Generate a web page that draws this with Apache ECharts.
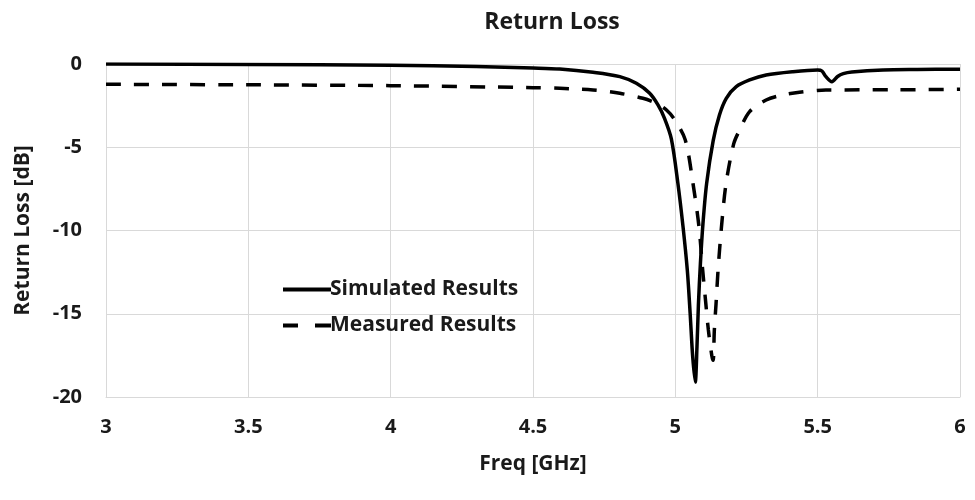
<!DOCTYPE html>
<html><head><meta charset="utf-8">
<script src="https://cdn.jsdelivr.net/npm/echarts@6/dist/echarts.min.js"></script>
<style>html,body{margin:0;padding:0;background:#fff}#c{width:975px;height:500px}</style>
</head><body><div id="c"></div>
<script>
const titleText = "Return Loss";
const xName = "Freq [GHz]";
const yName = "Return Loss [dB]";
const seriesNames = ["Simulated Results", "Measured Results"];

const simFreq = [3.0,3.5,4.0,4.3,4.5,4.594,4.711,4.805,4.863,4.91,4.939,4.962,4.986,5.009,5.027,5.042,5.052,5.061,5.07,5.076,5.081,5.088,5.097,5.11,5.133,5.155,5.179,5.214,5.261,5.319,5.413,5.5,5.515,5.529,5.55,5.57,5.59,5.62,5.73,5.85,6.0];
const simLoss = [0,-0.03,-0.08,-0.15,-0.24,-0.30,-0.50,-0.76,-1.16,-1.76,-2.46,-3.26,-4.5,-7.17,-9.77,-12.37,-14.97,-17.58,-19.1,-17.0,-14.5,-12.0,-9.6,-7.17,-4.6,-3.06,-2.06,-1.36,-0.96,-0.66,-0.46,-0.36,-0.42,-0.76,-1.06,-0.75,-0.58,-0.48,-0.36,-0.33,-0.31];

const measFreq = [3.0,3.5,4.0,4.5,4.594,4.711,4.805,4.886,4.933,4.968,4.998,5.035,5.062,5.083,5.096,5.107,5.116,5.128,5.133,5.137,5.143,5.15,5.162,5.178,5.205,5.226,5.261,5.319,5.366,5.436,5.529,5.786,6.0];
const measLoss = [-1.22,-1.25,-1.3,-1.42,-1.46,-1.56,-1.76,-2.06,-2.36,-2.75,-3.35,-4.56,-7.17,-9.77,-12.37,-14.37,-15.97,-17.5,-17.8,-16.0,-14.4,-12.4,-9.8,-7.2,-4.8,-3.96,-2.86,-2.16,-1.9,-1.7,-1.56,-1.55,-1.52];

const xTicks = {min:3, max:6, interval:0.5};
const yTicks = {min:-20, max:0, interval:5};

const zip = (a,b) => a.map((v,i)=>[v,b[i]]);
const FONT = "Open Sans";
const TXT = '#1a1a1a';
const chart = echarts.init(document.getElementById('c'), null, {renderer:'canvas'});
chart.setOption({
  animation:false,
  backgroundColor:'#fff',
  title:{text:titleText,left:547,top:6,textAlign:'center',textStyle:{fontFamily:FONT,fontWeight:'bold',fontSize:23,color:TXT}},
  grid:{left:106,right:15,top:64,bottom:103},
  legend:{orient:'vertical',left:278,top:274,itemWidth:48,itemHeight:4,itemGap:15,
    textStyle:{fontFamily:FONT,fontWeight:'bold',fontSize:21,color:TXT,padding:[0,0,0,-6]},
    data:[
      {name:seriesNames[0],icon:'path://M0,0h48v4h-48z'},
      {name:seriesNames[1],icon:'path://M0,0h15v4h-15zM32,0h16v4h-16z'}
    ]},
  xAxis:{type:'value',min:xTicks.min,max:xTicks.max,interval:xTicks.interval,
    name:xName,nameLocation:'middle',nameGap:57,
    nameTextStyle:{fontFamily:FONT,fontWeight:'bold',fontSize:21,color:TXT},
    axisLine:{show:true,onZero:false,lineStyle:{color:'#d9d9d9'}},axisTick:{show:false},
    axisLabel:{fontFamily:FONT,fontWeight:'bold',fontSize:20,color:TXT,margin:20},
    splitLine:{show:true,lineStyle:{color:'#d9d9d9',width:1}}},
  yAxis:{type:'value',min:yTicks.min,max:yTicks.max,interval:yTicks.interval,
    name:yName,nameLocation:'middle',nameGap:72,
    nameTextStyle:{fontFamily:FONT,fontWeight:'bold',fontSize:21,color:TXT},
    axisLine:{show:true,lineStyle:{color:'#d9d9d9'}},axisTick:{show:false},
    axisLabel:{fontFamily:FONT,fontWeight:'bold',fontSize:20,color:TXT,margin:24},
    splitLine:{show:true,lineStyle:{color:'#d9d9d9',width:1}}},
  series:[
    {name:seriesNames[0],type:'line',data:zip(simFreq,simLoss),symbol:'none',smooth:0.3,
      lineStyle:{color:'#000',width:3.5},itemStyle:{color:'#000'}},
    {name:seriesNames[1],type:'line',data:zip(measFreq,measLoss),symbol:'none',smooth:0.3,
      lineStyle:{color:'#000',width:3.5,type:[15,13]},itemStyle:{color:'#000'}}
  ]
});
</script></body></html>
